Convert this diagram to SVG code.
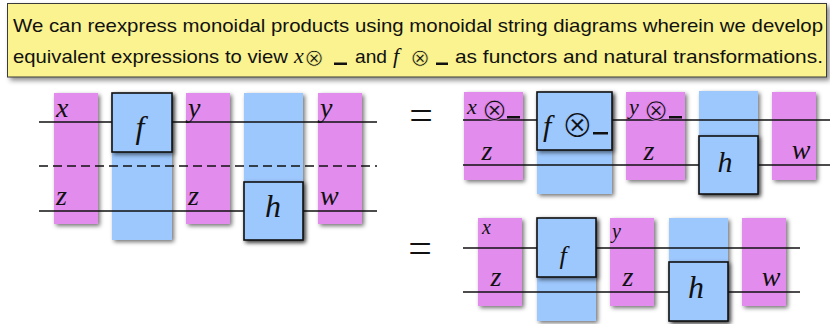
<svg xmlns="http://www.w3.org/2000/svg" width="830" height="324" viewBox="0 0 830 324">
  <defs>
    <filter id="shadow" x="-30%" y="-30%" width="160%" height="160%">
      <feDropShadow dx="2" dy="2" stdDeviation="2" flood-color="#000" flood-opacity="0.55"/>
    </filter>
    <filter id="noteShadow" x="-5%" y="-20%" width="110%" height="140%">
      <feDropShadow dx="3" dy="3" stdDeviation="2.5" flood-color="#000" flood-opacity="0.45"/>
    </filter>
  </defs>
  <style>
    .note { fill: #FAF38F; stroke: #3a3a3a; stroke-width: 1; }
    .sans { font-family: "Liberation Sans", "DejaVu Sans", sans-serif; font-size: 19px; fill: #111; }
    /* the tensor sign is thinned by a stroke in the colour behind it */
    .sym { font-family: "DejaVu Sans", sans-serif; fill: #111; }
    .on-note { stroke: #FAF38F; stroke-width: 0.6; }
    .on-pink { stroke: #E28CEE; stroke-width: 0.85; }
    .on-blue { stroke: #9DC8FE; stroke-width: 1.05; }
    .pink { fill: #E28CEE; }
    .blue { fill: #9DC8FE; }
    .box { fill: #9DC8FE; stroke: #111; stroke-width: 1.6; }
    .wire { stroke: #111; stroke-width: 1.5; fill: none; }
    .dash { stroke-dasharray: 9 5; }
    .lbl { font-family: "Liberation Serif", "DejaVu Serif", serif; font-style: italic; fill: #111; }
    .eq { font-family: "Liberation Serif", "DejaVu Serif", serif; font-size: 42px; fill: #111; }
  </style>

  <!-- explanatory note -->
  <g id="note">
    <rect class="note" x="7.5" y="3.5" width="819" height="73.5" filter="url(#noteShadow)"/>
    <text class="sans" x="13" y="32" textLength="810" lengthAdjust="spacingAndGlyphs">We can reexpress monoidal products using monoidal string diagrams wherein we develop</text>
    <text class="sans" x="13" y="63" textLength="275" lengthAdjust="spacingAndGlyphs">equivalent expressions to view</text>
    <text class="lbl" x="294" y="63" font-size="22">x</text>
    <text class="sym on-note" x="314" y="66" font-size="24" text-anchor="middle">⊗</text>
    <rect x="334" y="62.5" width="13" height="2.5" fill="#111"/>
    <text class="sans" x="355" y="63" textLength="32" lengthAdjust="spacingAndGlyphs">and</text>
    <text class="lbl" x="393" y="63" font-size="22">f</text>
    <text class="sym on-note" x="420" y="66" font-size="24" text-anchor="middle">⊗</text>
    <rect x="436" y="62.5" width="12" height="2.5" fill="#111"/>
    <text class="sans" x="455" y="63" textLength="368" lengthAdjust="spacingAndGlyphs">as functors and natural transformations.</text>
  </g>

  <!-- left diagram: columns -->
  <g id="L-x" filter="url(#shadow)"><rect class="pink" x="54" y="93" width="44" height="131"/></g>
  <g id="L-fcol" filter="url(#shadow)"><rect class="blue" x="112" y="93" width="60" height="147"/></g>
  <g id="L-y" filter="url(#shadow)"><rect class="pink" x="186" y="93" width="44" height="131"/></g>
  <g id="L-hcol" filter="url(#shadow)"><rect class="blue" x="244" y="93" width="59" height="147"/></g>
  <g id="L-yw" filter="url(#shadow)"><rect class="pink" x="318" y="93" width="44" height="131"/></g>

  <!-- top right diagram: columns -->
  <g id="R1-x" filter="url(#shadow)"><rect class="pink" x="464" y="92" width="59" height="88"/></g>
  <g id="R1-fcol" filter="url(#shadow)"><rect class="blue" x="537" y="92" width="75" height="102"/></g>
  <g id="R1-y" filter="url(#shadow)"><rect class="pink" x="626" y="92" width="59" height="88"/></g>
  <g id="R1-hcol" filter="url(#shadow)"><rect class="blue" x="699" y="91" width="59" height="103"/></g>
  <g id="R1-w" filter="url(#shadow)"><rect class="pink" x="772" y="92" width="44" height="88"/></g>

  <!-- bottom right diagram: columns -->
  <g id="R2-x" filter="url(#shadow)"><rect class="pink" x="478" y="218" width="44" height="88"/></g>
  <g id="R2-fcol" filter="url(#shadow)"><rect class="blue" x="537" y="218" width="59" height="103"/></g>
  <g id="R2-y" filter="url(#shadow)"><rect class="pink" x="610" y="218" width="44" height="88"/></g>
  <g id="R2-hcol" filter="url(#shadow)"><rect class="blue" x="669" y="218" width="59" height="103"/></g>
  <g id="R2-w" filter="url(#shadow)"><rect class="pink" x="742" y="218" width="44" height="88"/></g>

  <!-- strings -->
  <g id="connectors">
    <line class="wire" x1="39" y1="122" x2="377" y2="122"/>
    <line class="wire dash" x1="39" y1="166" x2="377" y2="166"/>
    <line class="wire" x1="39" y1="211" x2="377" y2="211"/>
    <line class="wire" x1="463" y1="120" x2="830" y2="120"/>
    <line class="wire" x1="463" y1="165" x2="830" y2="165"/>
    <line class="wire" x1="463" y1="248" x2="800" y2="248"/>
    <line class="wire" x1="463" y1="292" x2="800" y2="292"/>
  </g>

  <!-- morphism boxes -->
  <g id="L-f"><rect class="box" x="112" y="93" width="60" height="59" filter="url(#shadow)"/>
    <text class="lbl" x="140" y="138" font-size="32" text-anchor="middle">f</text></g>
  <g id="L-h"><rect class="box" x="244" y="182" width="59" height="58" filter="url(#shadow)"/>
    <text class="lbl" x="273" y="217" font-size="32" text-anchor="middle">h</text></g>
  <g id="R1-f"><rect class="box" x="537" y="92" width="75" height="58" filter="url(#shadow)"/>
    <text class="lbl" x="543" y="136" font-size="30">f</text>
    <text class="sym on-blue" x="577.5" y="137" font-size="38" text-anchor="middle">⊗</text>
    <rect x="593" y="132" width="15" height="2.5" fill="#111"/></g>
  <g id="R1-h"><rect class="box" x="699" y="136" width="59" height="58" filter="url(#shadow)"/>
    <text class="lbl" x="725" y="172" font-size="30" text-anchor="middle">h</text></g>
  <g id="R2-f"><rect class="box" x="537" y="218" width="59" height="59" filter="url(#shadow)"/>
    <text class="lbl" x="563" y="264" font-size="26" text-anchor="middle">f</text></g>
  <g id="R2-h"><rect class="box" x="669" y="262" width="59" height="59" filter="url(#shadow)"/>
    <text class="lbl" x="696" y="298" font-size="32" text-anchor="middle">h</text></g>

  <!-- object labels -->
  <g id="labels">
    <text class="lbl" x="56" y="117" font-size="28">x</text>
    <text class="lbl" x="56" y="205" font-size="28">z</text>
    <text class="lbl" x="188" y="117" font-size="28">y</text>
    <text class="lbl" x="188" y="205" font-size="28">z</text>
    <text class="lbl" x="320" y="117" font-size="28">y</text>
    <text class="lbl" x="320" y="205" font-size="28">w</text>

    <text class="lbl" x="467" y="114" font-size="22">x</text>
    <text class="sym on-pink" x="494.5" y="120" font-size="31" text-anchor="middle">⊗</text>
    <rect x="507" y="116" width="13" height="2.5" fill="#111"/>
    <text class="lbl" x="487" y="160" font-size="28" text-anchor="middle">z</text>
    <text class="lbl" x="629" y="114" font-size="22">y</text>
    <text class="sym on-pink" x="656" y="120" font-size="30" text-anchor="middle">⊗</text>
    <rect x="669" y="116" width="13" height="2.5" fill="#111"/>
    <text class="lbl" x="649" y="160" font-size="28" text-anchor="middle">z</text>
    <text class="lbl" x="801" y="159" font-size="28" text-anchor="middle">w</text>

    <text class="lbl" x="482" y="234" font-size="20">x</text>
    <text class="lbl" x="496" y="286" font-size="28" text-anchor="middle">z</text>
    <text class="lbl" x="612" y="238" font-size="20">y</text>
    <text class="lbl" x="628" y="286" font-size="28" text-anchor="middle">z</text>
    <text class="lbl" x="771" y="286" font-size="28" text-anchor="middle">w</text>
  </g>

  <!-- equals signs -->
  <text class="eq" x="421" y="129" text-anchor="middle">=</text>
  <text class="eq" x="420" y="262" text-anchor="middle">=</text>
</svg>
